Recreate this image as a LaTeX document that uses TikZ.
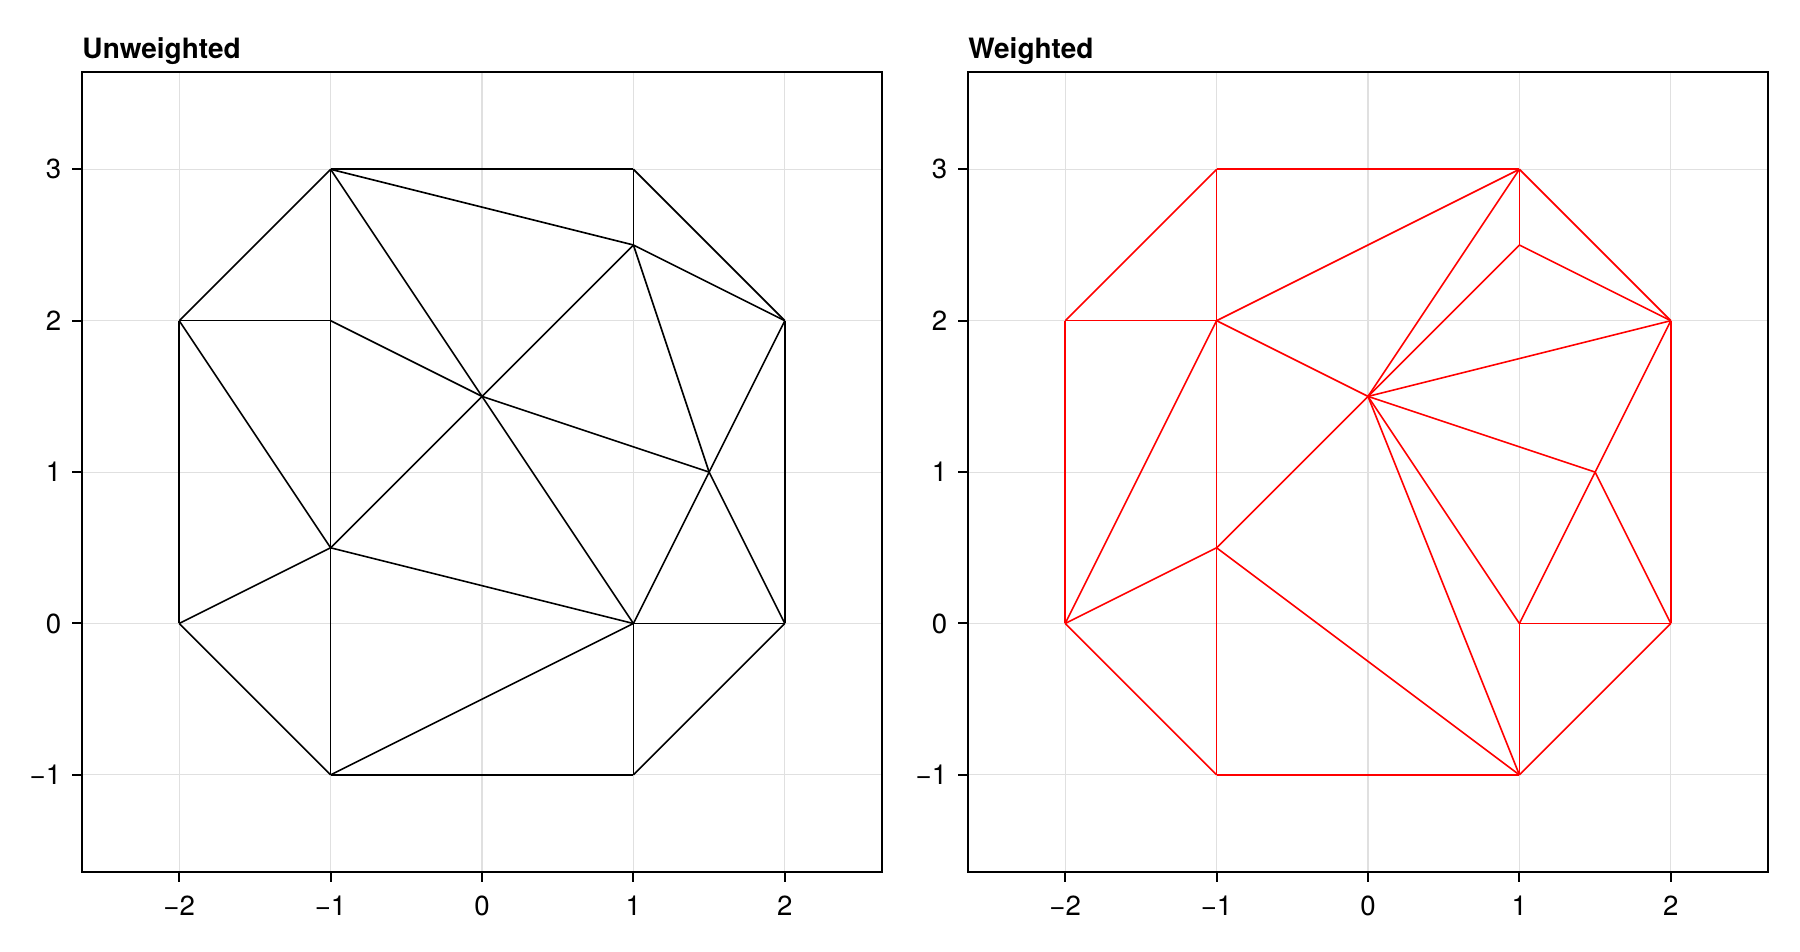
\documentclass[tikz,border=0pt]{standalone}
\usepackage{fontspec}
\setmainfont{TeX Gyre Heros}
\begin{document}
\begin{tikzpicture}[x=1pt,y=1pt,
  spine/.style={line width=1pt, line cap=rect},
  gridline/.style={draw=black!12, line width=0.55pt},
  tickmark/.style={line width=1pt},
  tri/.style={line width=0.8pt, line join=round},
  ticklab/.style={font=\fontsize{13.8}{16}\selectfont, inner sep=0pt},
  titlelab/.style={font=\fontsize{14}{16}\selectfont\bfseries, inner sep=0pt, anchor=base west}]
\fill[white] (0,0) rectangle (900,476);
\useasboundingbox (0,0) rectangle (900,476);

\def\xmin{-2.642}\def\xmax{2.642}\def\ymin{-1.642}\def\ymax{3.642}

% ---------- left panel ----------
\begin{scope}[shift={(241pt,164.25pt)}, x=75.7pt, y=75.7pt]
  \foreach \v in {-2,...,2} \draw[gridline] (\v,\ymin) -- (\v,\ymax);
  \foreach \v in {-1,...,3} \draw[gridline] (\xmin,\v) -- (\xmax,\v);
  \foreach \n/\x/\y in {a/-2/0, b/-2/2, c/-1/3, d/1/3, e/2/2, f/2/0, g/1/-1, h/-1/-1, i/-1/2, j/1/2.5, k/0/1.5, l/1.5/1, m/-1/0.5, n/1/0}
    \coordinate (L\n) at (\x,\y);
  \foreach \p/\q in {a/b, b/c, c/d, d/e, e/f, f/g, g/h, h/a, c/i, i/m, m/h, b/i, b/m, a/m, c/j, d/j, j/e, c/k, i/k, m/k, k/j, k/l, k/n, j/l, e/l, l/n, l/f, n/f, n/g, m/n, h/n}
    \draw[tri, black] (L\p) -- (L\q);
  \draw[spine] (\xmin,\ymin) rectangle (\xmax,\ymax);
  \foreach \v [count=\c] in {-2,...,2} {
    \coordinate (LX\c) at (\v,\ymin);
    \draw[tickmark] (LX\c) -- ++(0,-5pt);
    \node[ticklab, anchor=north] (LXL\c) at ([yshift=-11.6pt]LX\c) {\ifnum\v<0 −\the\numexpr-\v\relax\else\v\fi};
  }
  \foreach \v [count=\c] in {-1,...,3} {
    \coordinate (LY\c) at (\xmin,\v);
    \draw[tickmark] (LY\c) -- ++(-5pt,0);
    \node[ticklab, anchor=east] (LYL\c) at ([xshift=-10.2pt]LY\c) {\ifnum\v<0 −\the\numexpr-\v\relax\else\v\fi};
  }
  \coordinate (LT) at (\xmin,\ymax);
  \node[titlelab] (ltitle) at ([yshift=6.7pt]LT) {Unweighted};
\end{scope}

% ---------- right panel ----------
\begin{scope}[shift={(684pt,164.25pt)}, x=75.7pt, y=75.7pt]
  \foreach \v in {-2,...,2} \draw[gridline] (\v,\ymin) -- (\v,\ymax);
  \foreach \v in {-1,...,3} \draw[gridline] (\xmin,\v) -- (\xmax,\v);
  \foreach \n/\x/\y in {a/-2/0, b/-2/2, c/-1/3, d/1/3, e/2/2, f/2/0, g/1/-1, h/-1/-1, i/-1/2, j/1/2.5, k/0/1.5, l/1.5/1, m/-1/0.5, n/1/0}
    \coordinate (R\n) at (\x,\y);
  \foreach \p/\q in {a/b, b/c, c/d, d/e, e/f, f/g, g/h, h/a, c/i, i/m, m/h, b/i, a/i, a/m, i/d, i/k, m/k, m/g, k/d, k/j, k/e, k/l, k/n, k/g, d/j, j/e, l/e, l/n, l/f, n/f, n/g}
    \draw[tri, red] (R\p) -- (R\q);
  \draw[spine] (\xmin,\ymin) rectangle (\xmax,\ymax);
  \foreach \v [count=\c] in {-2,...,2} {
    \coordinate (RX\c) at (\v,\ymin);
    \draw[tickmark] (RX\c) -- ++(0,-5pt);
    \node[ticklab, anchor=north] (RXL\c) at ([yshift=-11.6pt]RX\c) {\ifnum\v<0 −\the\numexpr-\v\relax\else\v\fi};
  }
  \foreach \v [count=\c] in {-1,...,3} {
    \coordinate (RY\c) at (\xmin,\v);
    \draw[tickmark] (RY\c) -- ++(-5pt,0);
    \node[ticklab, anchor=east] (RYL\c) at ([xshift=-10.2pt]RY\c) {\ifnum\v<0 −\the\numexpr-\v\relax\else\v\fi};
  }
  \coordinate (RT) at (\xmin,\ymax);
  \node[titlelab] (rtitle) at ([yshift=6.7pt]RT) {Weighted};
\end{scope}
\end{tikzpicture}
\end{document}
